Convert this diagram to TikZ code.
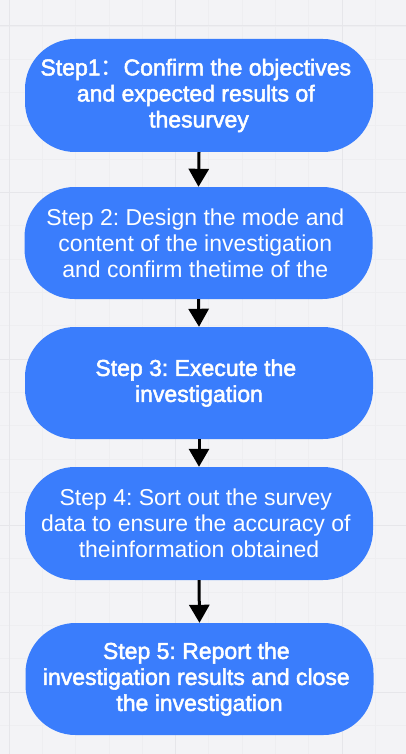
\documentclass[tikz,border=0pt]{standalone}
\usepackage{fontspec}
\setmainfont{Liberation Sans}
\newfontfamily\fbold{Liberation Sans}[FakeBold=2.2]
\newfontfamily\cjk{Noto Sans CJK SC}
\usetikzlibrary{arrows.meta}
\frenchspacing
\definecolor{bgc}{HTML}{F3F3F6}
\definecolor{gridmajor}{HTML}{E6E6EA}
\definecolor{gridminor}{HTML}{EEEEF1}
\definecolor{stepblue}{HTML}{3A7DFC}
\newcommand{\tsp}{\kern6.4pt}
\tikzset{
  stepbox/.style={fill=stepblue, draw=none, rounded corners=50pt,
    minimum width=348pt, minimum height=112pt, inner sep=0pt,
    text=white, align=center, font=\fontsize{23}{26}\selectfont},
  flowarrow/.style={draw=black, line width=3pt, -{Triangle[width=20pt,length=18pt]}},
}
\begin{document}
\frenchspacing
\begin{tikzpicture}[x=1pt,y=-1pt]
\useasboundingbox (0,0) rectangle (406,754);
\fill[bgc] (0,0) rectangle (406,754);
% minor grid
\foreach \k in {-1,...,12} {
  \draw[gridminor, line width=0.8pt] ({9+33.3*\k},0) -- ({9+33.3*\k},754);
}
\foreach \k in {-1,...,22} {
  \draw[gridminor, line width=0.8pt] (0,{26+33.3*\k}) -- (406,{26+33.3*\k});
}
% major grid
\foreach \xx in {9,175.5,342} {
  \draw[gridmajor, line width=1pt] (\xx,0) -- (\xx,754);
}
\foreach \yy in {26,192.5,359,525.5,692} {
  \draw[gridmajor, line width=1pt] (0,\yy) -- (406,\yy);
}
% boxes
\node[stepbox, minimum height=113pt] (b1) at (199,95.5) {\fbold Step1{\cjk ：}Confirm the objectives\tsp\\\fbold and expected results of\tsp\\\fbold thesurvey};
\node[stepbox] (b2) at (198.5,243) {Step 2: Design the mode and\tsp\\content of the investigation\tsp\\and confirm thetime of the\tsp};
\node[stepbox] (b3) at (199,383) {\fbold Step 3: Execute the\tsp\\\fbold investigation};
\node[stepbox, minimum height=113pt] (b4) at (199,523.5) {Step 4: Sort out the survey\tsp\\data to ensure the accuracy of\tsp\\theinformation obtained};
\node[stepbox] (b5) at (199.5,679) {\fbold Step 5: Report the\tsp\\\fbold investigation results and close\tsp\\\fbold the investigation};
% arrows
\draw[flowarrow] (b1.south) -- (b2.north);
\draw[flowarrow] (b2.south) -- (b3.north);
\draw[flowarrow] (b3.south) -- (b4.north);
\draw[flowarrow] (b4.south) -- (b5.north);
\end{tikzpicture}
\end{document}
